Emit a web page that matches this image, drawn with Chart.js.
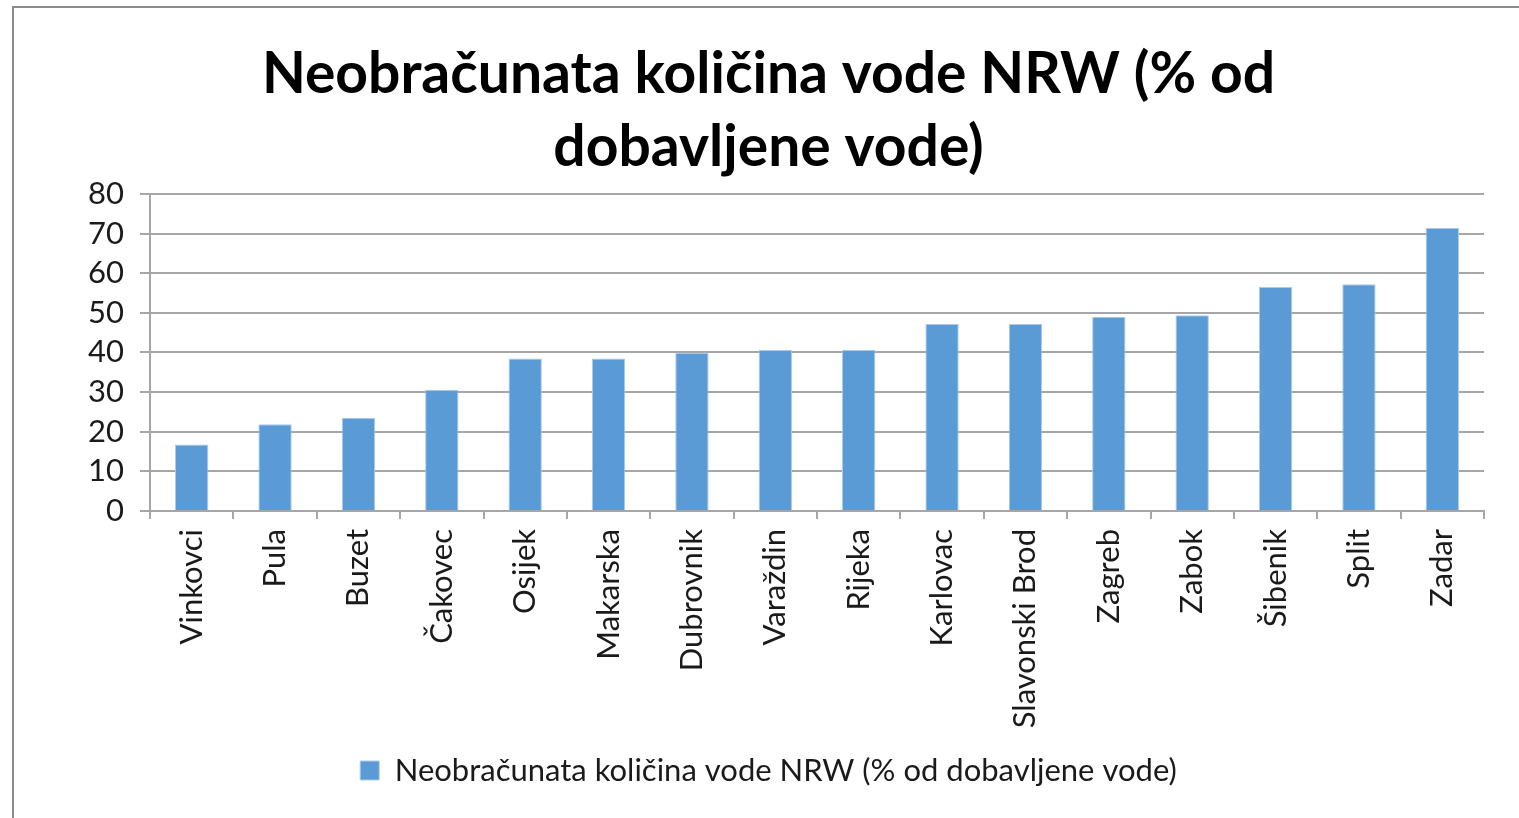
<!DOCTYPE html>
<html>
<head>
<meta charset="utf-8">
<script src="https://cdn.jsdelivr.net/npm/chart.js"></script>
<style>
  body { margin: 0; background: #fff; }
  #wrap { position: relative; width: 1519px; height: 818px; overflow: hidden; }
  #frame { position: absolute; left: 12px; top: 6px; width: 1600px; height: 900px;
           border-top: 2px solid #8c8c8c; border-left: 2px solid #8c8c8c; }
  #myChart { position: absolute; left: 0; top: 0; }
</style>
</head>
<body>
<div id="wrap">
  <div id="frame"></div>
  <canvas id="myChart" width="1519" height="818"></canvas>
</div>
<script>
const cities = ["Vinkovci", "Pula", "Buzet", "Čakovec", "Osijek", "Makarska", "Dubrovnik", "Varaždin",
  "Rijeka", "Karlovac", "Slavonski Brod", "Zagreb", "Zabok", "Šibenik", "Split", "Zadar"];
const nrwPercent = [16.8, 21.9, 23.5, 30.6, 38.5, 38.5, 39.9, 40.6, 40.6, 47.2, 47.2, 49.0, 49.4, 56.5, 57.2, 71.4];
const titleLines = ["Neobračunata količina vode NRW (% od", "dobavljene vode)"];
const seriesName = "Neobračunata količina vode NRW (% od dobavljene vode)";

const ctx = document.getElementById("myChart");
const fontFamily = "Lato, sans-serif";
const gridColor = "#a6a6a6";

const config = {
  type: "bar",
  data: {
    labels: cities,
    datasets: [
      {
        label: seriesName,
        data: nrwPercent,
        backgroundColor: "#5B9BD5",
        borderColor: "#a9cbea",
        borderWidth: 1,
        barPercentage: 0.4,
        categoryPercentage: 1,
      },
    ],
  },
  options: {
    responsive: false,
    animation: false,
    layout: {
      // left padding keeps title/legend centred like the original
      padding: { left: 53, right: 35, top: 8, bottom: 22 },
    },
    scales: {
      x: {
        grid: {
          drawOnChartArea: false,
          tickLength: 8,
          color: gridColor,
          lineWidth: 2,
          offset: true,
        },
        border: { color: gridColor, width: 2 },
        ticks: {
          maxRotation: 90,
          minRotation: 90,
          padding: 10,
          color: "#1a1a1a",
          font: { family: fontFamily, size: 31 },
        },
        afterFit: (scale) => { scale.height = 234; },
      },
      y: {
        min: 0,
        max: 80,
        ticks: {
          stepSize: 10,
          autoSkip: false,
          padding: 16,
          color: "#1a1a1a",
          font: { family: fontFamily, size: 31 },
        },
        grid: { color: gridColor, lineWidth: 2, tickLength: 10 },
        border: { color: gridColor, width: 2 },
        afterFit: (scale) => { scale.width = 97; },
      },
    },
    plugins: {
      title: {
        display: true,
        text: titleLines,
        color: "#000",
        font: { family: fontFamily, size: 57, weight: "bold", lineHeight: 1.28 },
        padding: { top: 30, bottom: 10 },
      },
      legend: {
        position: "bottom",
        labels: {
          color: "#1a1a1a",
          boxWidth: 19,
          boxHeight: 19,
          padding: 10,
          font: { family: fontFamily, size: 31 },
        },
      },
      tooltip: { enabled: false },
    },
  },
};
myChart = new Chart(ctx, config);
</script>
</body>
</html>
